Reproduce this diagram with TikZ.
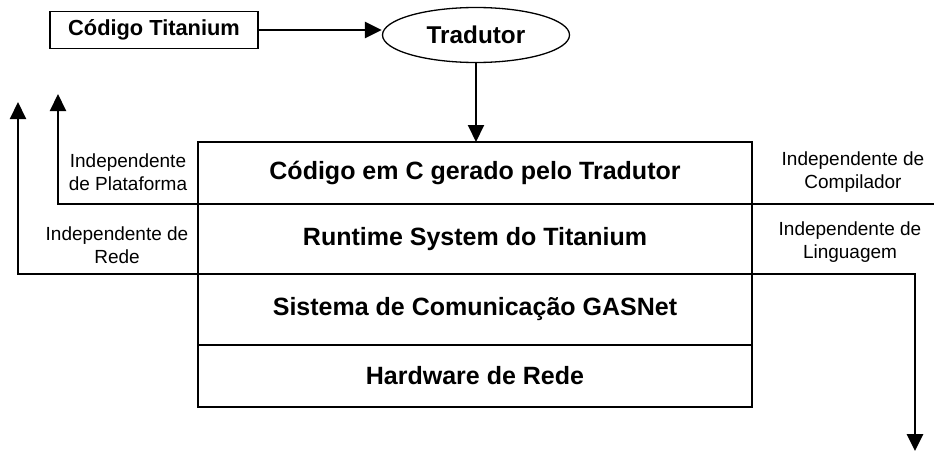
\documentclass[tikz,border=0pt]{standalone}
\usepackage{fontspec}
\setmainfont{Liberation Sans}
\usetikzlibrary{arrows.meta,positioning,shapes.geometric}

\tikzset{
  layer/.style={draw, line width=1.3pt, outer sep=0pt, inner sep=0pt, minimum width=554pt,
    font=\fontsize{25}{30}\selectfont\bfseries},
  side/.style={align=center, inner sep=0pt, font=\fontsize{19}{23.5}\selectfont},
}

\begin{document}
\begin{tikzpicture}[x=1pt, y=-1pt, >={Triangle[length=17pt 0,width=16pt 0]}, line width=2pt]
                \useasboundingbox (0,0) rectangle (934,452);

                \node[draw, line width=1.3pt, minimum width=208pt, minimum height=37pt,
                      font=\fontsize{21.8}{26}\selectfont\bfseries] (code) at (154,30) {Código Titanium};
                \node[ellipse, draw, line width=1.3pt, minimum width=187pt, minimum height=55pt,
                      font=\fontsize{24.3}{29}\selectfont\bfseries] (trad) at (476,35) {Tradutor};

                \node[layer, minimum height=62pt] (gen) at (475,173) {Código em C gerado pelo Tradutor};
                \node[layer, minimum height=70pt, below=0pt of gen] (rts) {Runtime System do Titanium};
                \node[layer, minimum height=71pt, below=0pt of rts] (gas) {Sistema de Comunicação GASNet};
                \node[layer, minimum height=62pt, below=0pt of gas] (hw) {Hardware de Rede};

                \node[side] (plat) at (128,172) {Independente\\de Plataforma};
                \node[side] (rede) at (117,245) {Independente de\\Rede};
                \node[side] (comp) at (853,172) {Independente de\\Compilador};
                \node[side] (ling) at (850,242) {Independente de\\Linguagem};

                \coordinate (platup) at (58,94);
                \coordinate (redeup) at (18,102);
                \coordinate (compend) at (934,204);
                \coordinate (lingdown) at (915,451);

                \draw[->, line width=2.8pt] (code.east) -- (code.east -| trad.west);
                \draw[->] (trad.south) -- (trad.south |- gen.north);
                \draw[->] (gen.south west) -| (platup);
                \draw[->] (rts.south west) -| (redeup);
                \draw[line width=1.5pt] (gen.south east) -- (compend);
                \draw[->, line width=2.8pt] (rts.south east) -| (lingdown);
\end{tikzpicture}
\end{document}
